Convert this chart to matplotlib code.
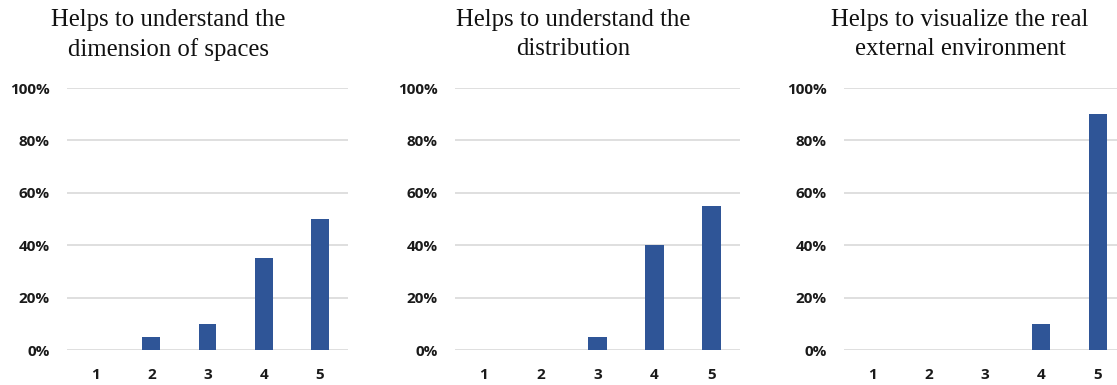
import matplotlib
matplotlib.use("Agg")
import matplotlib.pyplot as plt
from matplotlib.ticker import FuncFormatter

categories = ["1", "2", "3", "4", "5"]
titles = [
    "Helps to understand the\ndimension of spaces",
    "Helps to understand the\ndistribution",
    "Helps to visualize the real\nexternal environment",
]
values_dimension = [0, 5, 10, 35, 50]
values_distribution = [0, 0, 5, 40, 55]
values_environment = [0, 0, 0, 10, 90]
yticks = [0, 20, 40, 60, 80, 100]

series = [values_dimension, values_distribution, values_environment]

W, H = 1117, 385
fig = plt.figure(figsize=(W / 100, H / 100), dpi=100)

# axes left/right in pixels, and title centers
ax_px = [(67, 348), (455, 740), (844, 1126)]
title_cx = [168, 573, 960]
y0_px, y100_px = 350, 88

bar_color = "#2F5597"
grid_color = "#D9D9D9"
tick_color = "#1A1A1A"

for vals, title, (l, r), tcx in zip(series, titles, ax_px, title_cx):
    ax = fig.add_axes([l / W, (H - y0_px) / H, (r - l) / W, (y0_px - y100_px) / H])
    x = list(range(len(categories)))
    ax.bar(x, vals, width=0.32, color=bar_color, zorder=3)
    ax.set_xlim(-0.5, len(categories) - 0.5)
    ax.set_ylim(0, 100)
    ax.set_yticks(yticks)
    ax.yaxis.set_major_formatter(FuncFormatter(lambda v, p: f"{int(v)}%"))
    ax.set_xticks(x)
    ax.set_xticklabels(categories)
    ax.grid(axis="y", color=grid_color, linewidth=1.2, zorder=0)
    ax.set_axisbelow(True)
    for s in ax.spines.values():
        s.set_visible(False)
    ax.tick_params(axis="both", length=0, colors=tick_color)
    ax.tick_params(axis="y", pad=12.5)
    ax.tick_params(axis="x", pad=13)
    for lab in ax.get_xticklabels() + ax.get_yticklabels():
        lab.set_fontfamily("Open Sans")
        lab.set_fontweight("bold")
        lab.set_fontsize(11)
    fig.text(tcx / W, 1 - 9 / H, title, ha="center", va="top",
             fontfamily="Liberation Serif", fontsize=17.8, color="#111111",
             linespacing=1.4)

fig.savefig("out.png", dpi=100, facecolor="white")
